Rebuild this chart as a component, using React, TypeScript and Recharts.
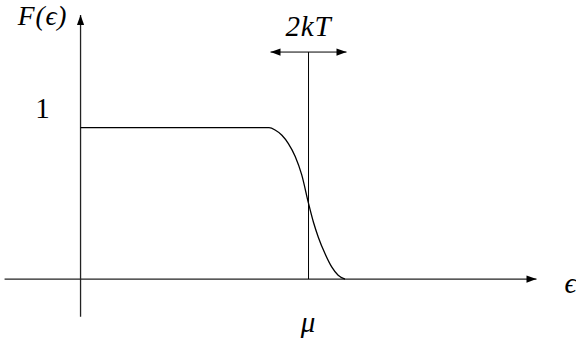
import React from "react";
import { LineChart, Line, XAxis, YAxis, ReferenceLine, ReferenceDot } from "recharts";

// Fermi–Dirac occupation (energy in units of kT, mu = 0)
const energy = [-6, -1.04, -0.88, -0.7, -0.53, -0.35, -0.18, 0, 0.13, 0.26, 0.43, 0.61, 0.78, 0.96];
const occupation = [1, 1, 0.985, 0.95, 0.895, 0.81, 0.69, 0.5, 0.375, 0.275, 0.17, 0.08, 0.025, 0];

const mu = 0;
const kTHalfWidth = 1;
const arrowLevel = 1.5;
const yAxisAt = -6;
const xAxisFrom = -8;
const xAxisTo = 6;
const yAxisFrom = -0.25;
const yAxisTo = 1.745;

const labels = [
  { text: "F(ϵ)", x: -7, y: 1.676, size: 27.5 },
  { text: "1", x: -7, y: 1.064, upright: true, size: 29 },
  { text: "2kT", x: 0, y: 1.606, size: 29 },
  { text: "μ", x: 0, y: -0.35, size: 29 },
  { text: "ϵ", x: 6.9, y: -0.093, size: 29 },
];

const data = energy.map((e, i) => ({ e, f: occupation[i] }));

const FONT = "'Liberation Serif', 'DejaVu Serif', serif";

const arrowHead = (tx: number, ty: number, dx: number, dy: number, len: number, half: number, key: string) => {
  const bx = tx - dx * len;
  const by = ty - dy * len;
  const px = -dy * half;
  const py = dx * half;
  return (
    <polygon key={key} points={`${tx},${ty} ${bx + px},${by + py} ${bx - px},${by - py}`} fill="#000" />
  );
};

const ArrowLine = (props: any) => {
  const { x1, y1, x2, y2, start, end, stroke, strokeWidth } = props;
  const L = Math.hypot(x2 - x1, y2 - y1) || 1;
  const dx = (x2 - x1) / L;
  const dy = (y2 - y1) / L;
  return (
    <g>
      <line x1={x1} y1={y1} x2={x2} y2={y2} stroke={stroke} strokeWidth={strokeWidth} />
      {end ? arrowHead(x2, y2, dx, dy, 10, 3.6, "e") : null}
      {start ? arrowHead(x1, y1, -dx, -dy, 10, 3.6, "s") : null}
    </g>
  );
};

const LabelText = (text: string, size: number, upright?: boolean) => (props: any) => {
  const { cx, cy } = props;
  return (
    <text
      x={cx}
      y={cy}
      textAnchor="middle"
      fontFamily={FONT}
      fontStyle={upright ? "normal" : "italic"}
      fontSize={size}
      letterSpacing={upright ? 0 : 0.8}
      fill="#000"
    >
      {text}
    </text>
  );
};

export default function App() {
  return (
    <div style={{ position: "absolute", left: 0, top: 0 }}>
      <LineChart width={576} height={345} data={data} margin={{ top: 0, right: 0, bottom: 0, left: 0 }}>
        <XAxis type="number" dataKey="e" domain={[-8.12, 7.04]} hide allowDataOverflow />
        <YAxis type="number" domain={[-0.436, 1.844]} hide allowDataOverflow />
        <ReferenceLine
          segment={[{ x: xAxisFrom, y: 0 }, { x: xAxisTo, y: 0 }]}
          stroke="#222"
          strokeWidth={1.3}
          ifOverflow="visible"
          shape={(p: any) => <ArrowLine {...p} end />}
        />
        <ReferenceLine
          segment={[{ x: yAxisAt, y: yAxisFrom }, { x: yAxisAt, y: yAxisTo }]}
          stroke="#222"
          strokeWidth={1.3}
          ifOverflow="visible"
          shape={(p: any) => <ArrowLine {...p} end />}
        />
        <ReferenceLine
          segment={[{ x: mu, y: 0 }, { x: mu, y: arrowLevel }]}
          stroke="#000"
          strokeWidth={1}
          ifOverflow="visible"
        />
        <ReferenceLine
          segment={[{ x: mu - kTHalfWidth, y: arrowLevel }, { x: mu + kTHalfWidth, y: arrowLevel }]}
          stroke="#000"
          strokeWidth={1}
          ifOverflow="visible"
          shape={(p: any) => <ArrowLine {...p} start end />}
        />
        <Line
          type="monotone"
          dataKey="f"
          stroke="#000"
          strokeWidth={1.3}
          dot={false}
          activeDot={false}
          isAnimationActive={false}
        />
        {labels.map((l) => (
          <ReferenceDot
            key={l.text}
            x={l.x}
            y={l.y}
            r={0}
            ifOverflow="visible"
            shape={LabelText(l.text, l.size, l.upright)}
          />
        ))}
      </LineChart>
    </div>
  );
}
